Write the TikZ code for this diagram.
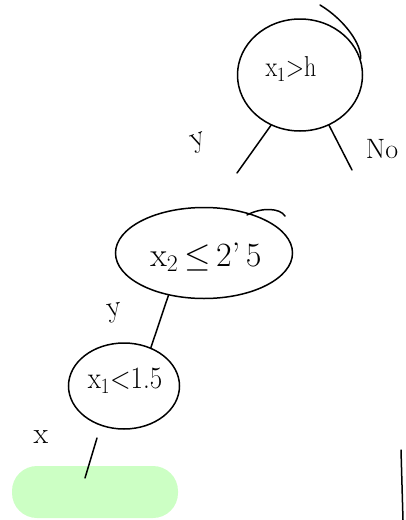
\documentclass[tikz,border=0pt]{standalone}
\usepackage{fix-cm}
\usepackage{fontspec}
\usetikzlibrary{shapes.geometric}
\definecolor{leafgreen}{RGB}{204,255,196}
\begin{document}
\begin{tikzpicture}[x=1pt,y=-1pt,
  sk/.style={line width=1.5pt,line cap=round,line join=round},
  oval/.style={ellipse,draw,line width=1.5pt,inner sep=0pt},
  hand/.style={inner sep=0pt,font=\fontsize{26}{30}\selectfont}]
\useasboundingbox (0,0) rectangle (405,520);
% top node
\node[oval,minimum width=125pt,minimum height=112pt] (n1) at (300,75) {};
\node[hand,font=\fontsize{24}{28}\selectfont,yscale=1.2] (t1) at (291,69) {x$_1$>h};
\draw[sk] (320,5) .. controls (345,20) and (362,45) .. (n1.15);
\coordinate (l1) at (237,173);
\coordinate (r1) at (352,170);
\draw[sk] (n1.240) -- (l1);
\draw[sk] (n1.300) -- (r1);
\node[hand,font=\fontsize{30}{34}\selectfont,rotate=20] (y1) at (199,143) {y};
\node[hand,font=\fontsize{28}{32}\selectfont] (no) at (382,149) {No};
% middle node
\node[oval,minimum width=177pt,minimum height=91pt] (n2) at (204,253) {};
\node[hand,font=\fontsize{34}{38}\selectfont] (t2) at (206,257) {x$_2$\,$\leq$\,2'\,5};
\draw[sk] (247,215) .. controls (262,207) and (280,208) .. (285,216);
\node[hand,font=\fontsize{30}{34}\selectfont,rotate=10] (y2) at (115,313) {y};
% lower node
\node[oval,minimum width=111pt,minimum height=86pt] (n3) at (124,386) {};
\node[hand,font=\fontsize{27}{31}\selectfont,yscale=1.15] (t3) at (125,381) {x$_1$<1.5};
\draw[sk] (n2.230) -- (n3.55);
\node[hand,font=\fontsize{30}{34}\selectfont] (x3) at (41,437) {x};
% leaf
\node[fill=leafgreen,rounded corners=25pt,minimum width=166pt,minimum height=52pt] (leaf) at (95,492) {};
\coordinate (a3) at (97,438);
\coordinate (b3) at (85,478);
\draw[sk] (a3) -- (b3);
% stray stroke bottom right
\coordinate (s1) at (401,450);
\coordinate (s2) at (403,520);
\draw[sk] (s1) -- (s2);
\end{tikzpicture}
\end{document}
